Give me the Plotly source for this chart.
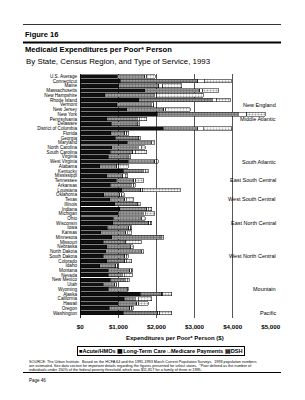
import plotly.graph_objects as go

states = ["U.S. Average", "Connecticut", "Maine", "Massachusetts", "New Hampshire", "Rhode Island",
          "Vermont", "New Jersey", "New York", "Pennsylvania", "Delaware", "District of Columbia",
          "Florida", "Georgia", "Maryland", "North Carolina", "South Carolina", "Virginia",
          "West Virginia", "Alabama", "Kentucky", "Mississippi", "Tennessee", "Arkansas",
          "Louisiana", "Oklahoma", "Texas", "Illinois", "Indiana", "Michigan", "Ohio", "Wisconsin",
          "Iowa", "Kansas", "Minnesota", "Missouri", "Nebraska", "North Dakota", "South Dakota",
          "Colorado", "Idaho", "Montana", "Nevada", "New Mexico", "Utah", "Wyoming", "Alaska",
          "California", "Hawaii", "Oregon", "Washington"]

acute = [975, 1050, 1005, 1695, 645, 1540, 960, 1215, 2015, 700, 815, 2180, 795, 920, 1235, 820,
         780, 730, 1260, 505, 1130, 695, 950, 780, 1090, 620, 770, 910, 1040, 1000, 860, 850, 710,
         540, 825, 600, 690, 670, 600, 700, 515, 740, 730, 780, 600, 735, 1570, 1150, 1000, 760, 1130]
long_term = [715, 2040, 1060, 1440, 1300, 1925, 900, 970, 2130, 800, 650, 900, 370, 580, 600, 700,
             600, 500, 700, 450, 520, 420, 450, 560, 500, 420, 400, 560, 700, 650, 720, 950, 560,
             650, 1270, 550, 600, 900, 570, 470, 420, 560, 370, 400, 310, 470, 570, 290, 480, 540, 900]
medicare = [60, 160, 100, 80, 60, 100, 50, 60, 230, 50, 40, 150, 50, 30, 40, 80, 60, 30, 50, 60, 50,
            60, 60, 60, 50, 50, 40, 40, 50, 60, 40, 40, 50, 40, 30, 40, 40, 40, 40, 40, 40, 50, 50,
            50, 30, 40, 30, 80, 60, 50, 60]
dsh = [215, 720, 500, 420, 1230, 370, 20, 640, 480, 190, 60, 750, 60, 40, 80, 100, 300, 60, 40, 250,
       90, 70, 200, 40, 980, 60, 190, 70, 90, 250, 80, 40, 30, 120, 60, 410, 60, 60, 50, 140, 5, 30,
       220, 60, 20, 15, 230, 350, 250, 40, 310]

regions = ["New England", "Middle Atlantic", "South Atlantic", "East South Central",
           "West South Central", "East North Central", "West North Central", "Mountain", "Pacific"]
region_last_state = ["Vermont", "Pennsylvania", "West Virginia", "Tennessee", "Texas", "Wisconsin",
                     "South Dakota", "Wyoming", "Washington"]

tick_vals = [0, 1000, 2000, 3000, 4000, 5000]
tick_text = ["$0", "$1,000", "$2,000", "$3,000", "$4,000", "$5,000"]

FONT = "Liberation Sans, Arial, sans-serif"
W, H = 305, 400
L, R, T, B = 80, 34, 74, 82
PW, PH = W - L - R, H - T - B


def fx(x):
    return (x - L) / PW


def fy(y):
    return (H - B - y) / PH


line = dict(color="black", width=0.5)
fig = go.Figure()
fig.add_trace(go.Bar(y=states, x=acute, orientation="h", name="Acute/HMOs",
                     marker=dict(color="#111111", line=line)))
fig.add_trace(go.Bar(y=states, x=long_term, orientation="h", name="Long-Term Care",
                     marker=dict(color="#9a9a9a", line=line,
                                 pattern=dict(shape="+", fgcolor="#3a3a3a", size=3, solidity=0.35))))
fig.add_trace(go.Bar(y=states, x=medicare, orientation="h", name="Medicare Payments",
                     marker=dict(color="white", line=line)))
fig.add_trace(go.Bar(y=states, x=dsh, orientation="h", name="DSH",
                     marker=dict(color="white", line=line,
                                 pattern=dict(shape=".", fgcolor="#444444", bgcolor="white",
                                              size=3, solidity=0.4))))

ann = []
for reg, st in zip(regions, region_last_state):
    ann.append(dict(x=fx(278), xref="paper", y=st, yref="y", text=reg, showarrow=False,
                    xanchor="right", yanchor="middle", font=dict(size=5.5, color="black")))

ann += [
    dict(x=fx(23), y=fy(34), text="Figure 16", xanchor="left", yanchor="middle",
         font=dict(size=7.5, weight="bold")),
    dict(x=fx(23), y=fy(49.5), text="Medicaid Expenditures per Poor* Person", xanchor="left",
         yanchor="middle", font=dict(size=7.6, weight="bold")),
    dict(x=fx(24), y=fy(61), text="By State, Census Region, and Type of Service, 1993",
         xanchor="left", yanchor="middle", font=dict(size=7.9)),
    dict(x=fx(175), y=fy(338), text="Expenditures per Poor* Person ($)", xanchor="center",
         yanchor="middle", font=dict(size=6, weight="bold")),
    dict(x=fx(161), y=fy(351), text="■Acute/HMOs ▦Long-Term Care □Medicare Payments ▤DSH",
         xanchor="center", yanchor="middle", font=dict(size=5.6, weight="bold"),
         bordercolor="black", borderwidth=1, borderpad=1),
    dict(x=fx(27), y=fy(362), text="SOURCE: The Urban Institute.  Based on the HCFA 64 and the 1991-1993 March Current Population Surveys.  1993 population numbers",
         xanchor="left", yanchor="middle", font=dict(size=3.75)),
    dict(x=fx(27), y=fy(365.8), text="are estimated. See data section for important details regarding the figures presented for select states.  *Poor defined as the number of",
         xanchor="left", yanchor="middle", font=dict(size=3.75)),
    dict(x=fx(27), y=fy(369.6), text="individuals under 150% of the federal poverty threshold, which was $11,817 for a family of three in 1995.",
         xanchor="left", yanchor="middle", font=dict(size=3.75)),
    dict(x=fx(27), y=fy(380), text="Page 46", xanchor="left", yanchor="middle", font=dict(size=4.5)),
]
for a in ann[len(regions):]:
    a.update(xref="paper", yref="paper", showarrow=False)

shapes = [
    dict(type="line", xref="paper", yref="paper", x0=fx(23), x1=fx(281), y0=fy(24.5), y1=fy(24.5),
         line=dict(color="#333333", width=1)),
    dict(type="line", xref="paper", yref="paper", x0=fx(23), x1=fx(281), y0=fy(42.5), y1=fy(42.5),
         line=dict(color="black", width=2.2)),
    dict(type="line", xref="paper", yref="paper", x0=fx(23), x1=fx(281), y0=fy(372.5), y1=fy(372.5),
         line=dict(color="black", width=1.2)),
]

fig.update_layout(
    width=W, height=H, margin=dict(l=L, r=R, t=T, b=B, pad=0),
    barmode="stack", bargap=0.22, showlegend=False,
    paper_bgcolor="white", plot_bgcolor="white",
    font=dict(family=FONT, color="black"),
    annotations=ann, shapes=shapes,
    xaxis=dict(range=[-8, 5008], tickvals=tick_vals, ticktext=tick_text, showgrid=True,
               gridcolor="#555555", gridwidth=1, zeroline=True, zerolinecolor="#222222",
               zerolinewidth=1, ticks="", tickfont=dict(size=6.2, weight="bold"),
               ticklabelstandoff=4, fixedrange=True),
    yaxis=dict(categoryorder="array", categoryarray=states, autorange="reversed",
               tickmode="array", tickvals=states, ticktext=states,
               ticks="", tickfont=dict(size=4.6), showgrid=False, ticklabelstandoff=2,
               fixedrange=True),
)

fig.write_html("out.html")
